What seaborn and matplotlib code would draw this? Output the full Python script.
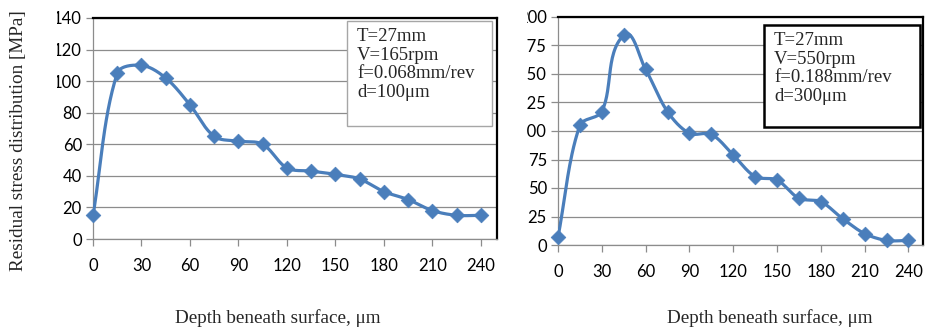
import numpy as np
import pandas as pd
import matplotlib
matplotlib.use("Agg")
import matplotlib.pyplot as plt
import seaborn as sns
from matplotlib.patches import Rectangle
from matplotlib.transforms import Bbox, TransformedBbox

# ---------------- data ----------------
depth = [0, 15, 30, 45, 60, 75, 90, 105, 120, 135, 150, 165, 180, 195, 210, 225, 240]
stress_left = [15, 105, 110, 102, 85, 65, 62, 60, 45, 43, 41, 38, 30, 25, 18, 15, 15]
stress_right = [7, 105, 117, 184, 154, 117, 98, 97, 79, 60, 57, 41, 38, 23, 10, 4, 4]
x_ticks = [0, 30, 60, 90, 120, 150, 180, 210, 240]
left_y_ticks = [0, 20, 40, 60, 80, 100, 120, 140]
right_y_ticks = [0, 25, 50, 75, 100, 125, 150, 175, 200]
left_params = ["T=27mm", "V=165rpm", "f=0.068mm/rev", "d=100\u03bcm"]
right_params = ["T=27mm", "V=550rpm", "f=0.188mm/rev", "d=300\u03bcm"]
x_label = "Depth beneath surface, \u03bcm"
y_label = "Residual stress distribution [MPa]"

# ---------------- style ----------------
sns.set_theme(style="white")
plt.rcParams["font.family"] = ["Lato", "DejaVu Sans"]
SERIF = ["Liberation Serif", "DejaVu Serif"]
LINE_COLOR = "#4a7ebb"
GRID = "#8c8c8c"

W, H = 925, 329
fig = plt.figure(figsize=(W / 100, H / 100), dpi=100)


def fx(px):
    return px / W


def fy(py):
    return 1 - py / H


def smooth_curve(x, y, sx, sy, n=30, k=0.32):
    """Spreadsheet-like smoothed line: Bezier segments whose tangent handles
    are scaled by the on-screen segment length (sx, sy = pixels per unit)."""
    p = np.column_stack([np.asarray(x, float) * sx, np.asarray(y, float) * sy])
    ext = np.vstack([p[0], p, p[-1]])
    out = []
    for i in range(len(p) - 1):
        p0, p1, p2, p3 = ext[i], ext[i + 1], ext[i + 2], ext[i + 3]
        d = np.linalg.norm(p2 - p1)
        t1 = p2 - p0
        t2 = p3 - p1
        t1 = t1 / (np.linalg.norm(t1) or 1)
        t2 = t2 / (np.linalg.norm(t2) or 1)
        c1 = p1 + t1 * d * k
        c2 = p2 - t2 * d * k
        t = np.linspace(0, 1, n, endpoint=(i == len(p) - 2))[:, None]
        seg = ((1 - t) ** 3) * p1 + 3 * ((1 - t) ** 2) * t * c1 + 3 * (1 - t) * t ** 2 * c2 + t ** 3 * p2
        out.append(seg)
    out = np.vstack(out)
    return out[:, 0] / sx, out[:, 1] / sy


def draw_panel(rect_px, values, yticks, ymax, params, box_px, box_style, label_clip_px):
    x0, x1, ytop, ybot = rect_px
    ax = fig.add_axes([fx(x0), fy(ybot), fx(x1) - fx(x0), fy(ytop) - fy(ybot)])
    xs, ys = smooth_curve(depth, values, (x1 - x0) / 250.0, (ybot - ytop) / float(ymax))
    curve = pd.DataFrame({"depth": xs, "stress": ys})
    pts = pd.DataFrame({"depth": depth, "stress": values})
    sns.lineplot(data=curve, x="depth", y="stress", sort=False, estimator=None,
                 color=LINE_COLOR, lw=2.3, ax=ax, zorder=3)
    sns.scatterplot(data=pts, x="depth", y="stress", marker="D", s=56,
                    color=LINE_COLOR, edgecolor=LINE_COLOR, linewidth=0.5,
                    ax=ax, zorder=4, clip_on=False)
    ax.set_xlim(0, 250)
    ax.set_ylim(0, ymax)
    ax.set_xticks(x_ticks)
    ax.set_yticks(yticks)
    ax.set_xticklabels([str(v) for v in x_ticks])
    ax.set_yticklabels([str(v) for v in yticks])
    ax.set_xlabel("")
    ax.set_ylabel("")
    ax.grid(axis="y", color=GRID, lw=0.9)
    ax.grid(axis="x", visible=False)
    ax.set_axisbelow(True)
    for s in ("left", "bottom"):
        ax.spines[s].set_color(GRID)
        ax.spines[s].set_linewidth(0.9)
    for s in ("top", "right"):
        ax.spines[s].set_color("black")
        ax.spines[s].set_linewidth(1.6)
    ax.tick_params(axis="both", direction="out", length=5, width=0.9, color=GRID,
                   labelsize=12, labelcolor="black")
    ax.tick_params(axis="y", pad=3, left=True)
    ax.tick_params(axis="x", pad=9, bottom=True)
    if label_clip_px is not None:
        clip = TransformedBbox(Bbox([[fx(label_clip_px), 0], [1, 1]]), fig.transFigure)
        for lab in ax.get_yticklabels():
            lab.set_clip_on(True)
            lab.set_clip_box(clip)
    # parameter box
    bx0, by0, bx1, by1 = box_px
    ec, lw = box_style
    fig.patches.append(Rectangle((fx(bx0), fy(by1)), fx(bx1) - fx(bx0), fy(by0) - fy(by1),
                                 transform=fig.transFigure, facecolor="white",
                                 edgecolor=ec, lw=lw, zorder=5))
    fig.text(fx(bx0 + 10), fy(by0 + 7), "\n".join(params), ha="left", va="top",
             fontsize=13.5, family=SERIF, linespacing=1.13, zorder=6)
    return ax


draw_panel((93, 497, 18, 239), stress_left, left_y_ticks, 140, left_params,
           (347, 21, 492, 126), ("#a6a6a6", 1.0), 57)
draw_panel((558, 923, 17, 245), stress_right, right_y_ticks, 200, right_params,
           (764, 25, 920, 127), ("black", 1.8), 526.8)

fig.text(fx(19), fy(141), y_label, rotation=90, ha="center", va="center",
         fontsize=13.8, family=SERIF)
fig.text(fx(278), fy(318), x_label, ha="center", va="center", fontsize=13.8, family=SERIF)
fig.text(fx(770), fy(318), x_label, ha="center", va="center", fontsize=13.8, family=SERIF)

fig.savefig("out.png", dpi=100)
